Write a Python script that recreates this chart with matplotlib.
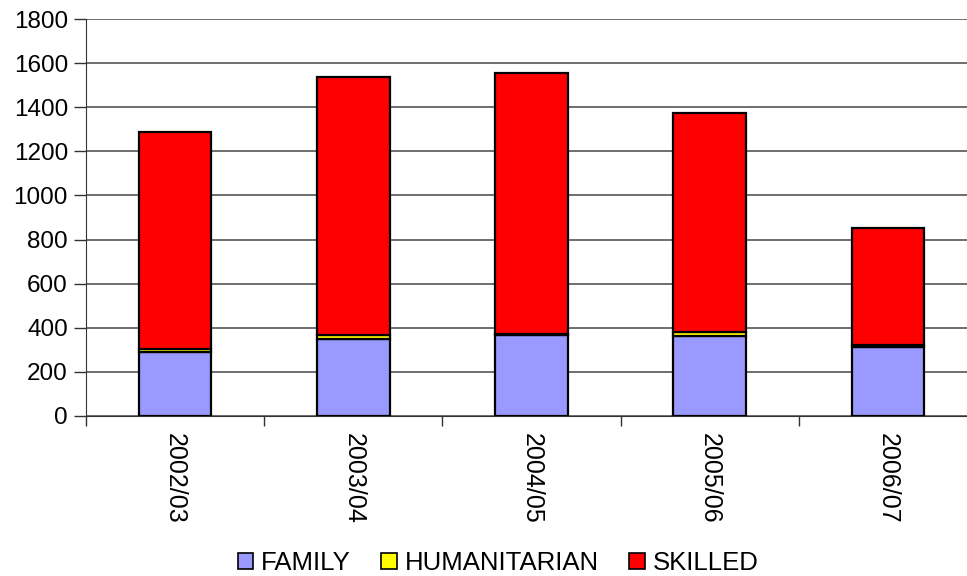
import numpy as np
import matplotlib
matplotlib.use('Agg')
import matplotlib.pyplot as plt
from matplotlib.patches import Patch

plt.rcParams['font.family'] = ['Liberation Sans', 'DejaVu Sans']

years = ['2002/03', '2003/04', '2004/05', '2005/06', '2006/07']
family = [288, 350, 367, 364, 314]
humanitarian = [18, 16, 6, 16, 9]
skilled = [981, 1171, 1182, 994, 529]

fig = plt.figure(figsize=(9.67, 5.76), dpi=100)
ax = fig.add_axes([86/967, 1-416/576, 891/967, 397/576])

x = np.arange(len(years))
w = 0.407
fam = np.array(family)
hum = np.array(humanitarian)
ski = np.array(skilled)

ax.bar(x, fam, w, color='#9999ff', edgecolor='black', linewidth=1.6, zorder=3)
ax.bar(x, hum, w, bottom=fam, color='#ffff00', edgecolor='black', linewidth=1.6, zorder=3)
ax.bar(x, ski, w, bottom=fam+hum, color='#ff0000', edgecolor='black', linewidth=1.6, zorder=3)

ax.set_xlim(-0.5, 4.5)
ax.set_ylim(0, 1800)
ax.set_yticks(np.arange(0, 1801, 200))
ax.yaxis.grid(True, color='#555555', linewidth=1.2)
ax.set_axisbelow(True)

ax.set_xticks(np.arange(-0.5, 4.6, 1))
ax.set_xticklabels([])
ax.set_xticks(x, minor=True)
ax.set_xticklabels(years, minor=True, rotation=270, fontsize=18)
ax.tick_params(axis='x', which='minor', length=0, pad=12)
ax.tick_params(axis='x', which='major', length=7, width=1, color='#333333', direction='out')
ax.tick_params(axis='y', length=9, width=1, color='#333333', labelsize=17.5, pad=4)

for s in ['top', 'right']:
    ax.spines[s].set_visible(False)
ax.spines['left'].set_color('#333333')
ax.spines['bottom'].set_color('#333333')

handles = [Patch(facecolor='#9999ff', edgecolor='black', linewidth=1.2, label='FAMILY'),
           Patch(facecolor='#ffff00', edgecolor='black', linewidth=1.2, label='HUMANITARIAN'),
           Patch(facecolor='#ff0000', edgecolor='black', linewidth=1.2, label='SKILLED')]
fig.legend(handles=handles, loc='center', bbox_to_anchor=(498/967, 1-563/576), ncol=3,
           frameon=False, fontsize=18.5, handlelength=0.6, handleheight=0.6,
           handletextpad=0.3, columnspacing=1.2)

plt.savefig('out.png', dpi=100)
